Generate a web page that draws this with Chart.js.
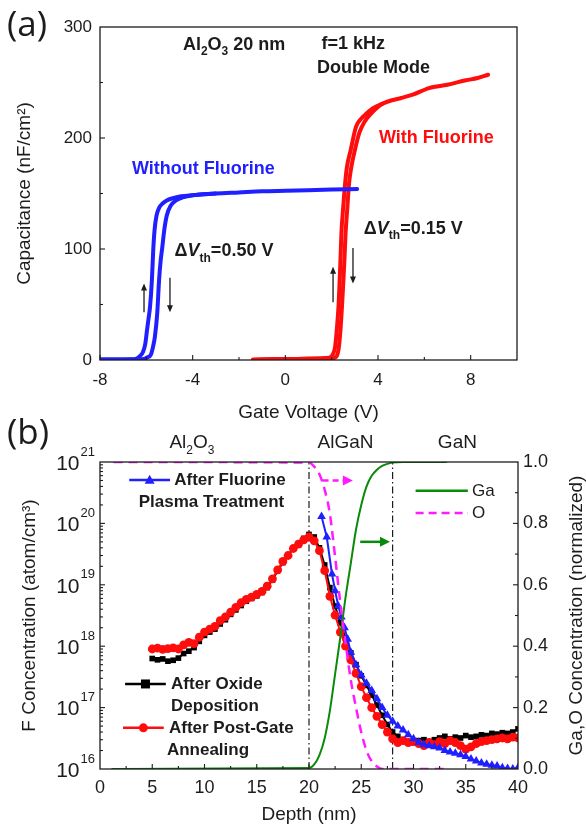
<!DOCTYPE html>
<html>
<head>
<meta charset="utf-8">
<title>C-V hysteresis and F SIMS profile</title>
<script src="https://cdn.jsdelivr.net/npm/chart.js@4.4.1/dist/chart.umd.min.js"></script>
<style>
  body { margin: 0; background: #fff; }
  .panel { position: absolute; left: 0; width: 586px; }
  #panelA { top: 0; height: 425px; }
  #panelB { top: 414px; height: 420px; }
</style>
</head>
<body>
<div class="panel" id="panelA"><canvas id="cvChart"></canvas></div>
<div class="panel" id="panelB"><canvas id="simsChart"></canvas></div>
<script>
// ---------- (a) C-V, gate voltage (V) vs capacitance (nF/cm2) ----------
const noFluorLeftV  = [-8.0, -7.0, -6.6, -6.45, -6.3, -6.15, -6.05, -5.97, -5.9, -5.84, -5.76, -5.7, -5.64, -5.56, -5.45, -5.3, -5.1, -4.9, -4.5, -4.0, -3.0, -2.0, -1.0, 0.0, 1.0, 2.0, 3.1];
const noFluorLeftC  = [0.5, 0.5, 0.6, 1, 3, 7, 14, 27, 38, 48, 72, 100, 118, 130, 137, 141, 144, 145.5, 147.5, 148.5, 150, 151, 152, 152.5, 153, 153.5, 154];
const noFluorRightV = [-8.0, -6.3, -6.1, -5.95, -5.8, -5.7, -5.63, -5.53, -5.45, -5.38, -5.32, -5.22, -5.12, -4.95, -4.7, -4.43, -4.0, -3.0];
const noFluorRightC = [0.5, 0.5, 1, 2.5, 5, 13, 21, 42, 72, 90, 100, 118, 130, 139, 144, 146.5, 148.5, 150];

const fluorLeftV  = [-1.4, -0.5, 0.5, 1.5, 1.9, 2.05, 2.15, 2.22, 2.3, 2.34, 2.38, 2.42, 2.5, 2.58, 2.66, 2.82, 3.05, 3.3, 3.5, 3.8, 4.2, 4.6, 5.0, 5.5, 6.2, 7.0, 7.8, 8.3, 8.75];
const fluorLeftC  = [0.5, 0.8, 1, 1.5, 2, 5, 12, 27, 50, 69, 90, 114, 138, 159, 174, 189, 210, 218, 222, 227, 231, 234, 236, 239, 245, 248, 252, 254, 257];
const fluorRightV = [1.5, 2.0, 2.2, 2.3, 2.38, 2.45, 2.5, 2.55, 2.6, 2.68, 2.75, 2.85, 3.0, 3.2, 3.4, 3.7, 4.0, 4.2];
const fluorRightC = [1, 1.5, 3, 10, 27, 50, 69, 90, 114, 138, 159, 174, 189, 205, 214, 222, 228, 231];

// ---------- (b) SIMS, depth (nm) vs F concentration (atom/cm3) ----------
const depthSims = [5, 5.5, 6, 6.5, 7, 7.5, 8, 8.5, 9, 9.5, 10, 10.5, 11, 11.5, 12, 12.5, 13, 13.5, 14, 14.5,
  15, 15.5, 16, 16.5, 17, 17.5, 18, 18.5, 19, 19.5, 20, 20.5, 21, 21.5, 22, 22.5, 23, 23.5, 24, 24.5,
  25, 25.5, 26, 26.5, 27, 27.5, 28, 28.5, 29, 29.5, 30, 30.5, 31, 31.5, 32, 32.5, 33, 33.5, 34, 34.5,
  35, 35.5, 36, 36.5, 37, 37.5, 38, 38.5, 39, 39.5, 40];
const fOxide = [6.3e17, 6.0e17, 6.2e17, 5.7e17, 5.9e17, 6.4e17, 7.6e17, 8.3e17, 9.5e17, 1.2e18, 1.5e18, 1.7e18, 1.9e18, 2.3e18, 2.7e18, 3.3e18, 3.9e18, 4.6e18, 5.4e18, 6.0e18,
  6.6e18, 7.5e18, 9.0e18, 1.2e19, 1.7e19, 2.3e19, 3.0e19, 3.9e19, 4.7e19, 5.7e19, 6.6e19, 6.0e19, 4.0e19, 2.1e19, 9.0e18, 4.5e18, 2.4e18, 1.35e18, 7.8e17, 5.0e17,
  3.3e17, 2.3e17, 1.6e17, 1.1e17, 7.5e16, 5.3e16, 4.0e16, 3.4e16, 3.0e16, 2.8e16, 2.7e16, 2.9e16, 3.0e16, 2.8e16, 3.0e16, 3.2e16, 3.4e16, 3.1e16, 3.3e16, 3.2e16,
  3.5e16, 3.3e16, 3.4e16, 3.6e16, 3.5e16, 3.8e16, 3.7e16, 3.9e16, 3.8e16, 4.0e16, 4.5e16];
const fAnneal = [9.0e17, 9.3e17, 8.9e17, 9.1e17, 9.4e17, 9.0e17, 1.05e18, 1.15e18, 1.1e18, 1.4e18, 1.7e18, 1.9e18, 2.1e18, 2.6e18, 3.0e18, 3.6e18, 4.3e18, 5.1e18, 5.8e18, 6.3e18,
  7.0e18, 7.8e18, 9.5e18, 1.25e19, 1.75e19, 2.4e19, 3.0e19, 3.9e19, 4.6e19, 5.4e19, 6.0e19, 5.2e19, 3.6e19, 1.7e19, 6.5e18, 3.2e18, 1.7e18, 1.0e18, 6.0e17, 3.6e17,
  2.2e17, 1.45e17, 1.0e17, 7.2e16, 5.3e16, 4.0e16, 3.1e16, 2.7e16, 2.9e16, 2.7e16, 2.8e16, 2.6e16, 2.4e16, 2.7e16, 2.5e16, 2.8e16, 2.6e16, 2.9e16, 2.7e16, 2.4e16,
  2.1e16, 2.3e16, 2.6e16, 2.8e16, 2.9e16, 3.0e16, 3.1e16, 3.2e16, 3.1e16, 3.3e16, 3.2e16];
const depthPlasma = [21.2, 21.7, 22.2, 22.5, 22.8, 23.1, 23.4, 23.7, 24, 24.5, 25, 25.5, 26, 26.5, 27, 27.5, 28, 28.5, 29, 29.5,
  30, 30.5, 31, 31.5, 32, 32.5, 33, 33.5, 34, 34.5, 35, 35.5, 36, 36.5, 37, 37.5, 38, 38.5, 39, 39.5, 40];
const fPlasma = [1.3e20, 6.0e19, 1.5e19, 8.0e18, 4.5e18, 3.0e18, 2.0e18, 1.3e18, 8.0e17, 5.0e17, 3.4e17, 2.5e17, 1.9e17, 1.4e17, 1.0e17, 7.5e16, 6.0e16, 5.0e16, 4.3e16, 3.6e16,
  3.1e16, 2.7e16, 2.5e16, 2.4e16, 2.3e16, 2.2e16, 2.0e16, 1.9e16, 1.8e16, 1.7e16, 1.6e16, 1.45e16, 1.35e16, 1.25e16, 1.2e16, 1.15e16, 1.12e16, 1.05e16, 1.02e16, 1.0e16, 1.05e16];

// normalized Ga and O (right axis)
const gaDepth = [1.1, 20, 20.5, 21, 21.5, 22, 22.5, 23, 23.5, 24, 24.5, 25, 25.5, 26, 26.5, 27, 27.5, 28, 29, 33.2];
const gaFrac  = [0, 0.003, 0.015, 0.045, 0.1, 0.19, 0.31, 0.43, 0.56, 0.67, 0.78, 0.86, 0.92, 0.955, 0.975, 0.987, 0.994, 0.998, 1, 1];
const oDepth  = [1.3, 20, 20.5, 21, 21.5, 22, 22.5, 23, 23.5, 24, 24.5, 25, 25.5, 26, 26.5, 27, 33.2];
const oFrac   = [1, 0.998, 0.985, 0.96, 0.91, 0.83, 0.69, 0.54, 0.41, 0.29, 0.2, 0.12, 0.06, 0.025, 0.008, 0, 0];

const layerEdges = [20, 28];
const logDecades = [16, 17, 18, 19, 20, 21];

const FAM = '"Liberation Sans", Arial, sans-serif';
const INK = '#1c1c1c';
const BLUE = '#1f1fff';
const RED = '#ff0d0d';
const GREEN = '#0a8a0a';
const MAGENTA = '#ff1aff';

const B18 = 'bold 18px ' + FAM;
const BI18 = 'italic bold 18px ' + FAM;
const B12 = 'bold 12px ' + FAM;

function pts(xs, ys) {
  return xs.map((x, i) => ({ x: x, y: ys[i] }));
}

function richText(ctx, x, y, runs, align) {
  let w = 0;
  runs.forEach(r => { ctx.font = r[1]; w += ctx.measureText(r[0]).width; });
  let cx = align === 'center' ? x - w / 2 : (align === 'right' ? x - w : x);
  ctx.textAlign = 'left';
  ctx.textBaseline = 'middle';
  runs.forEach(r => {
    ctx.font = r[1];
    ctx.fillText(r[0], cx, y + (r[2] || 0));
    cx += ctx.measureText(r[0]).width;
  });
}

function seg(ctx, x1, y1, x2, y2) {
  ctx.beginPath();
  ctx.moveTo(x1, y1);
  ctx.lineTo(x2, y2);
  ctx.stroke();
}

function arrowHead(ctx, x, y, dx, dy, len, half) {
  // dx,dy unit direction
  ctx.beginPath();
  ctx.moveTo(x, y);
  ctx.lineTo(x - dx * len - dy * half, y - dy * len + dx * half);
  ctx.lineTo(x - dx * len + dy * half, y - dy * len - dx * half);
  ctx.closePath();
  ctx.fill();
}

// ---------------- panel (a) ----------------
const notesA = [
  { v: -4.42, c: 283.5, color: INK, runs: [['Al', B18], ['2', B12, 6], ['O', B18], ['3', B12, 6], [' 20 nm', B18]] },
  { v: 1.56, c: 285, color: INK, runs: [['f=1 kHz', B18]] },
  { v: 1.37, c: 263, color: INK, runs: [['Double Mode', B18]] },
  { v: 4.04, c: 200, color: RED, runs: [['With Fluorine', B18]] },
  { v: -6.62, c: 172, color: BLUE, runs: [['Without Fluorine', B18]] },
  { v: -4.78, c: 98, color: INK, runs: [['\u0394', B18], ['V', BI18], ['th', B12, 7], ['=0.50 V', B18]] },
  { v: 3.39, c: 118, color: INK, runs: [['\u0394', B18], ['V', BI18], ['th', B12, 7], ['=0.15 V', B18]] }
];
// sweep direction arrows (voltage, from C, to C)
const sweepArrows = [[-6.1, 43, 69], [-4.98, 74, 43], [2.06, 52, 84], [2.92, 101, 69]];

const frameA = {
  id: 'frameA',
  afterDraw(chart) {
    const ctx = chart.ctx;
    const a = chart.chartArea;
    const x = chart.scales.x, y = chart.scales.y;
    ctx.save();
    ctx.strokeStyle = INK;
    ctx.lineWidth = 1.3;
    ctx.strokeRect(a.left, a.top, a.right - a.left, a.bottom - a.top);
    ctx.lineWidth = 1.1;
    for (let v = -8; v <= 8; v += 2) {
      const px = x.getPixelForValue(v);
      seg(ctx, px, a.bottom, px, a.bottom - (v % 4 === 0 ? 5 : 3));
    }
    for (let c = 50; c < 300; c += 50) {
      const py = y.getPixelForValue(c);
      seg(ctx, a.left, py, a.left + (c % 100 === 0 ? 5 : 3), py);
    }

    ctx.fillStyle = INK;
    ctx.lineWidth = 1.3;
    sweepArrows.forEach(s => {
      const px = x.getPixelForValue(s[0]);
      const y1 = y.getPixelForValue(s[1]);
      const y2 = y.getPixelForValue(s[2]);
      const dir = y2 < y1 ? -1 : 1;
      seg(ctx, px, y1, px, y2 - dir * 5);
      arrowHead(ctx, px, y2, 0, dir, 7, 3);
    });

    notesA.forEach(n => {
      ctx.fillStyle = n.color;
      richText(ctx, x.getPixelForValue(n.v), y.getPixelForValue(n.c), n.runs, 'left');
    });

    ctx.fillStyle = INK;
    ctx.font = '35px "Open Sans", sans-serif';
    ctx.textAlign = 'left';
    ctx.textBaseline = 'middle';
    ctx.fillText('(a)', 7, 26);
    ctx.restore();
  }
};

function cvLine(xs, ys, color) {
  return {
    data: pts(xs, ys),
    borderColor: color,
    borderWidth: 4,
    pointRadius: 0,
    fill: false,
    cubicInterpolationMode: 'monotone',
    borderCapStyle: 'round',
    borderJoinStyle: 'round'
  };
}

new Chart(document.getElementById('cvChart'), {
  type: 'line',
  data: {
    datasets: [
      cvLine(noFluorLeftV, noFluorLeftC, BLUE),
      cvLine(noFluorRightV, noFluorRightC, BLUE),
      cvLine(fluorLeftV, fluorLeftC, RED),
      cvLine(fluorRightV, fluorRightC, RED)
    ]
  },
  options: {
    responsive: true,
    maintainAspectRatio: false,
    animation: false,
    layout: { padding: { top: 27, right: 69, left: 0, bottom: 0 } },
    plugins: { legend: { display: false }, tooltip: { enabled: false } },
    scales: {
      x: {
        type: 'linear', min: -8, max: 10,
        grid: { display: false, drawTicks: false },
        border: { display: false },
        ticks: { stepSize: 4, includeBounds: false, padding: 10, color: INK, font: { family: FAM, size: 17 } },
        title: { display: true, text: 'Gate Voltage (V)', color: INK, font: { family: FAM, size: 19 }, padding: { top: 0, bottom: 0.6 } },
        afterFit: s => { s.height = 65; }
      },
      y: {
        min: 0, max: 300,
        grid: { display: false, drawTicks: false },
        border: { display: false },
        ticks: { stepSize: 100, padding: 8, color: INK, font: { family: FAM, size: 17 } },
        title: { display: true, text: 'Capacitance (nF/cm\u00B2)', color: INK, font: { family: FAM, size: 19 }, padding: { top: 13.6, bottom: 0 } },
        afterFit: s => { s.width = 100; }
      }
    }
  },
  plugins: [frameA]
});

// ---------------- panel (b) ----------------
const B17R = 'bold 17px ' + FAM;
const legendB = [
  { shape: 'triangle', color: BLUE, x1: 2.8, x2: 6.7, y: 0.941, text: [['After Fluorine', 7.1, 0.941], ['Plasma Treatment', 3.7, 0.870]] },
  { shape: 'rect', color: '#000', x1: 2.4, x2: 6.3, y: 0.277, text: [['After Oxide', 6.8, 0.277], ['Deposition', 6.8, 0.205]] },
  { shape: 'circle', color: RED, x1: 2.2, x2: 6.1, y: 0.134, text: [['After Post-Gate', 6.6, 0.134], ['Annealing', 6.4, 0.062]] }
];
const layerNames = [
  { d: 8.8, runs: [['Al', '19px ' + FAM], ['2', '12px ' + FAM, 8], ['O', '19px ' + FAM], ['3', '12px ' + FAM, 8]] },
  { d: 23.5, runs: [['AlGaN', '19px ' + FAM]] },
  { d: 34.2, runs: [['GaN', '19px ' + FAM]] }
];

function marker(ctx, shape, px, py, r) {
  ctx.beginPath();
  if (shape === 'rect') {
    ctx.rect(px - r, py - r, 2 * r, 2 * r);
  } else if (shape === 'triangle') {
    ctx.moveTo(px, py - r * 1.2);
    ctx.lineTo(px + r * 1.1, py + r * 0.8);
    ctx.lineTo(px - r * 1.1, py + r * 0.8);
    ctx.closePath();
  } else {
    ctx.arc(px, py, r, 0, Math.PI * 2);
  }
  ctx.fill();
}

const frameB = {
  id: 'frameB',
  afterDraw(chart) {
    const ctx = chart.ctx;
    const a = chart.chartArea;
    const x = chart.scales.x, y = chart.scales.y, y2 = chart.scales.y2;
    ctx.save();
    ctx.strokeStyle = INK;
    ctx.lineWidth = 1.3;
    ctx.strokeRect(a.left, a.top, a.right - a.left, a.bottom - a.top);
    ctx.lineWidth = 1.1;
    for (let v = 2.5; v < 40; v += 2.5) {
      const px = x.getPixelForValue(v);
      seg(ctx, px, a.bottom, px, a.bottom - (v % 5 === 0 ? 5 : 3));
    }
    for (let e = 16; e <= 20; e++) {
      for (let m = 1; m <= 9; m++) {
        if (e === 16 && m === 1) continue;
        const py = y.getPixelForValue(m * Math.pow(10, e));
        seg(ctx, a.left, py, a.left + (m === 1 ? 5 : 3), py);
      }
    }
    for (let k = 1; k <= 9; k++) {
      const py = y2.getPixelForValue(k / 10);
      seg(ctx, a.right, py, a.right - (k % 2 === 0 ? 5 : 3), py);
    }

    // log tick labels 10^n
    ctx.fillStyle = INK;
    logDecades.forEach(e => {
      const py = y.getPixelForValue(Math.pow(10, e));
      ctx.textAlign = 'right';
      ctx.textBaseline = 'middle';
      ctx.font = '13px ' + FAM;
      const ew = ctx.measureText(String(e)).width;
      ctx.fillText(String(e), 95, py - 10);
      ctx.font = '21px ' + FAM;
      ctx.fillText('10', 95 - ew - 1, py + 2);
    });

    // right axis title, reading bottom to top
    ctx.save();
    ctx.translate(577, (a.top + a.bottom) / 2);
    ctx.rotate(-Math.PI / 2);
    ctx.font = '19px ' + FAM;
    ctx.textAlign = 'center';
    ctx.textBaseline = 'middle';
    ctx.fillText('Ga,O Concentration (normalized)', 0, 0);
    ctx.restore();

    // layer names above the plot
    layerNames.forEach(l => {
      richText(ctx, x.getPixelForValue(l.d), y2.getPixelForValue(1.062), l.runs, 'center');
    });

    // legends
    legendB.forEach(g => {
      const py = y2.getPixelForValue(g.y);
      ctx.strokeStyle = g.color;
      ctx.fillStyle = g.color;
      ctx.lineWidth = 2.5;
      seg(ctx, x.getPixelForValue(g.x1), py, x.getPixelForValue(g.x2), py);
      marker(ctx, g.shape, (x.getPixelForValue(g.x1) + x.getPixelForValue(g.x2)) / 2, py, 4.5);
      ctx.fillStyle = INK;
      g.text.forEach(t => richText(ctx, x.getPixelForValue(t[1]), y2.getPixelForValue(t[2]), [[t[0], B17R]], 'left'));
    });

    ctx.lineWidth = 2.5;
    ctx.strokeStyle = GREEN;
    seg(ctx, x.getPixelForValue(30.2), y2.getPixelForValue(0.906), x.getPixelForValue(35.2), y2.getPixelForValue(0.906));
    ctx.strokeStyle = MAGENTA;
    ctx.setLineDash([8, 5]);
    seg(ctx, x.getPixelForValue(30.2), y2.getPixelForValue(0.834), x.getPixelForValue(35.2), y2.getPixelForValue(0.834));
    ctx.setLineDash([]);
    ctx.fillStyle = INK;
    richText(ctx, x.getPixelForValue(35.6), y2.getPixelForValue(0.906), [['Ga', '17px ' + FAM]], 'left');
    richText(ctx, x.getPixelForValue(35.6), y2.getPixelForValue(0.834), [['O', '17px ' + FAM]], 'left');

    // arrows pointing to the right-hand axis
    const pa = y2.getPixelForValue(0.94);
    ctx.strokeStyle = MAGENTA;
    ctx.fillStyle = MAGENTA;
    ctx.lineWidth = 2.5;
    ctx.setLineDash([6, 4]);
    seg(ctx, x.getPixelForValue(21.3), pa, x.getPixelForValue(23.3), pa);
    ctx.setLineDash([]);
    arrowHead(ctx, x.getPixelForValue(24.2), pa, 1, 0, 10, 5);
    const ga = y2.getPixelForValue(0.74);
    ctx.strokeStyle = GREEN;
    ctx.fillStyle = GREEN;
    seg(ctx, x.getPixelForValue(24.9), ga, x.getPixelForValue(27.0), ga);
    arrowHead(ctx, x.getPixelForValue(27.75), ga, 1, 0, 10, 5);

    ctx.fillStyle = INK;
    ctx.font = '35px "Open Sans", sans-serif';
    ctx.textAlign = 'left';
    ctx.textBaseline = 'middle';
    ctx.fillText('(b)', 7, 20);
    ctx.restore();
  }
};

function simsSeries(xs, ys, color, shape, radius, order) {
  return {
    data: pts(xs, ys),
    yAxisID: 'y',
    borderColor: color,
    backgroundColor: color,
    borderWidth: 2,
    pointStyle: shape,
    pointRadius: radius,
    pointBorderWidth: 0,
    pointBackgroundColor: color,
    fill: false,
    order: order
  };
}

function edgeLine(d) {
  return {
    data: [{ x: d, y: 1e16 }, { x: d, y: 1e21 }],
    yAxisID: 'y',
    borderColor: INK,
    borderWidth: 1.2,
    borderDash: [7, 3, 1.5, 3],
    pointRadius: 0,
    fill: false,
    order: 9
  };
}

new Chart(document.getElementById('simsChart'), {
  type: 'line',
  data: {
    datasets: [
      edgeLine(layerEdges[0]),
      edgeLine(layerEdges[1]),
      simsSeries(depthSims, fOxide, '#000', 'rect', 4, 8),
      simsSeries(depthSims, fAnneal, RED, 'circle', 4.4, 7),
      simsSeries(depthPlasma, fPlasma, BLUE, 'triangle', 5, 6),
      {
        data: pts(gaDepth, gaFrac), yAxisID: 'y2', borderColor: GREEN, borderWidth: 2,
        pointRadius: 0, fill: false, cubicInterpolationMode: 'monotone', order: 2
      },
      {
        data: pts(oDepth, oFrac), yAxisID: 'y2', borderColor: MAGENTA, borderWidth: 2.5, borderDash: [9, 6],
        pointRadius: 0, fill: false, cubicInterpolationMode: 'monotone', order: 1
      }
    ]
  },
  options: {
    responsive: true,
    maintainAspectRatio: false,
    animation: false,
    layout: { padding: { top: 48, right: 0, left: 0, bottom: 0 } },
    plugins: { legend: { display: false }, tooltip: { enabled: false } },
    scales: {
      x: {
        type: 'linear', min: 0, max: 40,
        grid: { display: false, drawTicks: false },
        border: { display: false },
        ticks: { stepSize: 5, padding: 8, color: INK, font: { family: FAM, size: 18 } },
        title: { display: true, text: 'Depth (nm)', color: INK, font: { family: FAM, size: 19 }, padding: { top: 0, bottom: 7.6 } },
        afterFit: s => { s.height = 65; }
      },
      y: {
        type: 'logarithmic', min: 1e16, max: 1e21, position: 'left',
        grid: { display: false, drawTicks: false },
        border: { display: false },
        ticks: { display: false },
        title: { display: true, text: 'F Concentration (atom/cm\u00B3)', color: INK, font: { family: FAM, size: 19 }, padding: { top: 18.6, bottom: 0 } },
        afterFit: s => { s.width = 100; }
      },
      y2: {
        type: 'linear', min: 0, max: 1, position: 'right',
        grid: { display: false, drawTicks: false },
        border: { display: false },
        ticks: { stepSize: 0.2, padding: 5, color: INK, font: { family: FAM, size: 18 }, callback: v => v.toFixed(1) },
        title: { display: false },
        afterFit: s => { s.width = 68; }
      }
    }
  },
  plugins: [frameB]
});
</script>
</body>
</html>
